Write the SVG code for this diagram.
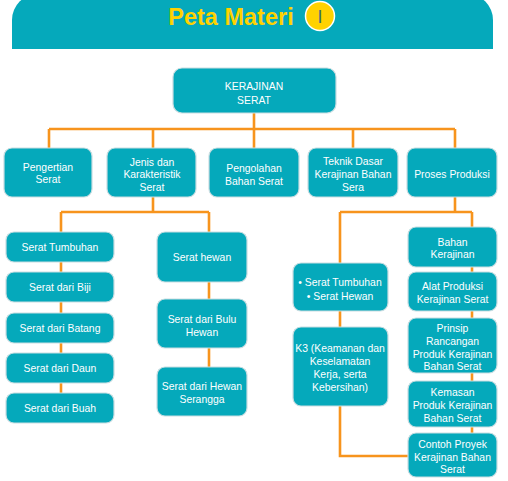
<svg xmlns="http://www.w3.org/2000/svg" width="508" height="481" viewBox="0 0 508 481">
<style>
.b{fill:#05A9BB;stroke:#c9dde1;stroke-width:1.2}
.t{font-family:"Liberation Sans",Arial,sans-serif;font-size:10.4px;fill:#ffffff;text-anchor:middle}
.c{fill:none;stroke:#F7941D;stroke-width:2.6}
</style>
<rect width="508" height="481" fill="#ffffff"/>
<g id="header">
<path d="M12 49V20A26 26 0 0 1 38 -6H467A26 26 0 0 1 493 20V49Z" fill="#05A9BB"/>
<text x="231" y="25" font-family="Liberation Sans,Arial,sans-serif" font-size="23.5" font-weight="bold" fill="#FFD200" text-anchor="middle">Peta Materi</text>
<circle cx="320" cy="16" r="14.5" fill="#FFD200" stroke="#ffffff" stroke-width="1.5"/>
<text x="320" y="22.5" font-family="Liberation Sans,Arial,sans-serif" font-size="18" fill="#3b6b72" text-anchor="middle">I</text>
</g>
<g id="connectors">
<path class="c" d="M254 113V129M49 129H455M49 129V148M153 129V148M254 129V148M353 129V148M455 129V148"/>
<path class="c" d="M153 197V212M61 212H209M61 212V232M209 212V232M61 262V393M209 282V367"/>
<path class="c" d="M455 197V212M340 212H472M472 212V227M340 212V263M472 267V433M340 311V327M340 406V456H408"/>
</g>
<g id="root"><rect class="b" x="173" y="68" width="163" height="45" rx="9"/><text class="t"><tspan x="254" y="90">KERAJINAN</tspan><tspan x="254" y="104">SERAT</tspan></text></g>
<g id="pengertian"><rect class="b" x="4" y="148" width="88" height="49" rx="8"/><text class="t"><tspan x="48" y="171">Pengertian</tspan><tspan x="48" y="183">Serat</tspan></text></g>
<g id="jenis"><rect class="b" x="107" y="148" width="89" height="49" rx="8"/><text class="t"><tspan x="152" y="165.5">Jenis dan</tspan><tspan x="152" y="178">Karakteristik</tspan><tspan x="152" y="190.5">Serat</tspan></text></g>
<g id="pengolahan"><rect class="b" x="209" y="148" width="90" height="49" rx="8"/><text class="t"><tspan x="254" y="171.5">Pengolahan</tspan><tspan x="254" y="184.5">Bahan Serat</tspan></text></g>
<g id="teknik"><rect class="b" x="308" y="148" width="90" height="49" rx="8"/><text class="t"><tspan x="353" y="165">Teknik Dasar</tspan><tspan x="353" y="177.5">Kerajinan Bahan</tspan><tspan x="353" y="190.5">Sera</tspan></text></g>
<g id="proses"><rect class="b" x="407" y="148" width="90" height="49" rx="8"/><text class="t"><tspan x="452" y="177.5">Proses Produksi</tspan></text></g>
<g id="tumbuhan"><rect class="b" x="6" y="232" width="108" height="30" rx="8"/><text class="t" x="60" y="250.5">Serat Tumbuhan</text></g>
<g id="biji"><rect class="b" x="6" y="272" width="108" height="30" rx="8"/><text class="t" x="60" y="290.5">Serat dari Biji</text></g>
<g id="batang"><rect class="b" x="6" y="313" width="108" height="30" rx="8"/><text class="t" x="60" y="331.5">Serat dari Batang</text></g>
<g id="daun"><rect class="b" x="6" y="353" width="108" height="30" rx="8"/><text class="t" x="60" y="371.5">Serat dari Daun</text></g>
<g id="buah"><rect class="b" x="6" y="393" width="108" height="30" rx="8"/><text class="t" x="60" y="411.5">Serat dari Buah</text></g>
<g id="hewan"><rect class="b" x="157" y="232" width="90" height="50" rx="8"/><text class="t" x="202" y="261">Serat hewan</text></g>
<g id="bulu"><rect class="b" x="157" y="299" width="90" height="49" rx="8"/><text class="t"><tspan x="202" y="322.5">Serat dari Bulu</tspan><tspan x="202" y="335.5">Hewan</tspan></text></g>
<g id="serangga"><rect class="b" x="157" y="367" width="90" height="49" rx="8"/><text class="t"><tspan x="202" y="389.5">Serat dari Hewan</tspan><tspan x="202" y="402.5">Serangga</tspan></text></g>
<g id="jenisserat"><rect class="b" x="293" y="263" width="95" height="48" rx="8"/><text class="t"><tspan x="340" y="285.5">• Serat Tumbuhan</tspan><tspan x="340" y="299.5">• Serat Hewan</tspan></text></g>
<g id="k3"><rect class="b" x="293" y="327" width="95" height="79" rx="8"/><text class="t"><tspan x="340" y="351.5">K3 (Keamanan dan</tspan><tspan x="340" y="365">Keselamatan</tspan><tspan x="340" y="378">Kerja, serta</tspan><tspan x="340" y="391">Kebersihan)</tspan></text></g>
<g id="bahan"><rect class="b" x="408" y="227" width="89" height="40" rx="8"/><text class="t"><tspan x="452.5" y="245.5">Bahan</tspan><tspan x="452.5" y="258">Kerajinan</tspan></text></g>
<g id="alat"><rect class="b" x="408" y="272" width="89" height="39" rx="8"/><text class="t"><tspan x="452.5" y="289.5">Alat Produksi</tspan><tspan x="452.5" y="302.5">Kerajinan Serat</tspan></text></g>
<g id="prinsip"><rect class="b" x="408" y="318" width="89" height="55" rx="8"/><text class="t"><tspan x="452.5" y="331.5">Prinsip</tspan><tspan x="452.5" y="345">Rancangan</tspan><tspan x="452.5" y="357.5">Produk Kerajinan</tspan><tspan x="452.5" y="370">Bahan Serat</tspan></text></g>
<g id="kemasan"><rect class="b" x="408" y="381" width="89" height="46" rx="8"/><text class="t"><tspan x="452.5" y="395.5">Kemasan</tspan><tspan x="452.5" y="408.5">Produk Kerajinan</tspan><tspan x="452.5" y="421.5">Bahan Serat</tspan></text></g>
<g id="contoh"><rect class="b" x="408" y="433" width="89" height="44" rx="8"/><text class="t"><tspan x="452.5" y="447.5">Contoh Proyek</tspan><tspan x="452.5" y="460.5">Kerajinan Bahan</tspan><tspan x="452.5" y="472.5">Serat</tspan></text></g>
</svg>
